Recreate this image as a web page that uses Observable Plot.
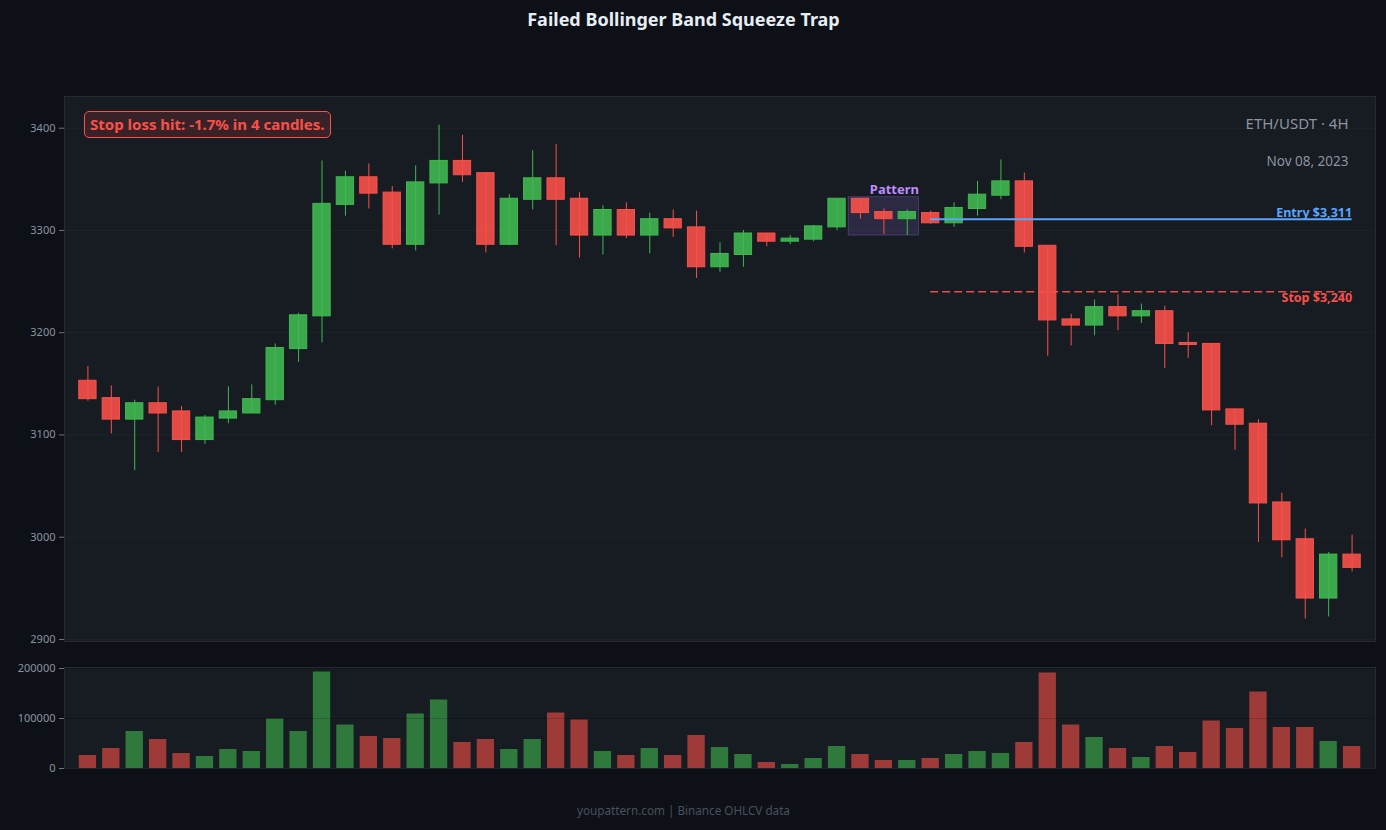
<!DOCTYPE html>
<html>
<head>
<meta charset="utf-8">
<script src="https://cdn.jsdelivr.net/npm/d3@7"></script>
<script src="https://cdn.jsdelivr.net/npm/@observablehq/plot@0.6"></script>
<style>
  html, body { margin: 0; padding: 0; background: #0d1017; width: 1386px; height: 830px; overflow: hidden; font-family: "Noto Sans", "Open Sans", sans-serif; }
  #title { position: absolute; left: 0; top: 7px; width: 1367px; text-align: center; color: #e6edf3; font-weight: bold; font-size: 18px; }
  #main { position: absolute; left: 0; top: 40px; }
  #vol { position: absolute; left: 0; top: 650px; }
  #note { position: absolute; left: 84px; top: 111px; height: 25px; padding: 0 5px; line-height: 25px; border: 1.5px solid #f85149; border-radius: 5px; background: rgba(248,81,73,0.15); color: #f85149; font-weight: bold; font-size: 15px; white-space: nowrap; }
  #footer { position: absolute; left: 0; top: 802px; width: 1367px; text-align: center; color: #4a515b; font-size: 11.7px; }
</style>
</head>
<body>
<div id="title">Failed Bollinger Band Squeeze Trap</div>
<div id="main"></div>
<div id="vol"></div>
<div id="note">Stop loss hit: -1.7% in 4 candles.</div>
<div id="footer">youpattern.com | Binance OHLCV data</div>
<script>
const opens  = [3153,3136,3115,3131,3123,3095,3116,3121,3134,3184,3216,3325,3352,3337,3286,3346,3368,3356,3286,3330,3351,3331,3295,3320,3295,3311,3303,3264,3276,3297,3289,3291,3303,3331,3318,3311,3317,3307,3321,3334,3348,3285,3213,3207,3225,3216,3221,3190,3189,3125,3111,3034,2998,2940,2983];
const highs  = [3167,3148,3134,3147,3128,3119,3147,3149,3189,3219,3368,3358,3365,3343,3363,3403,3393,3356,3335,3378,3384,3337,3324,3327,3317,3320,3319,3288,3300,3297,3295,3305,3331,3331,3321,3320,3319,3327,3348,3369,3356,3285,3218,3232,3237,3228,3226,3200,3189,3125,3115,3043,3008,2985,3002];
const lows   = [3133,3101,3065,3083,3083,3091,3111,3121,3129,3171,3190,3314,3321,3282,3280,3315,3347,3278,3285,3320,3285,3273,3276,3292,3277,3293,3253,3259,3264,3284,3286,3289,3300,3311,3296,3295,3306,3303,3314,3330,3278,3177,3187,3197,3202,3209,3165,3175,3109,3085,2995,2980,2920,2922,2966];
const closes = [3135,3115,3131,3121,3095,3117,3123,3135,3185,3217,3326,3352,3336,3286,3347,3368,3354,3286,3331,3351,3330,3295,3320,3295,3311,3302,3264,3277,3297,3289,3292,3304,3331,3317,3311,3318,3307,3322,3335,3348,3284,3212,3207,3225,3216,3221,3189,3188,3124,3110,3033,2997,2940,2983,2970];
const volumes = [26000,40000,74000,58000,30000,24000,38000,34000,99000,74000,193000,87000,64000,60000,109000,137000,52000,58000,38000,58000,111000,97000,34000,26000,40000,26000,66000,42000,28000,12000,8000,20000,44000,28000,16000,16000,20000,28000,34000,30000,52000,191000,87000,62000,40000,22000,44000,32000,95000,80000,153000,82000,82000,54000,44000];

const priceTicks = [2900,3000,3100,3200,3300,3400];
const volumeTicks = [0,100000,200000];
const entryPrice = 3311;
const stopPrice = 3240;
const entryLabel = "Entry $3,311";
const stopLabel = "Stop $3,240";
const patternStart = 33, patternEnd = 35;   // candle indices of the pattern
const entryIndex = 36;
const pairLabel = "ETH/USDT · 4H";
const dateLabel = "Nov 08, 2023";

const GREEN = "#3fb950", RED = "#f85149";
const candles = opens.map((o, i) => ({
  i, open: o, high: highs[i], low: lows[i], close: closes[i], volume: volumes[i],
  color: closes[i] >= o ? GREEN : RED
}));
const pat = candles.slice(patternStart, patternEnd + 1);
const patBox = [{
  x1: patternStart - 0.5, x2: patternEnd + 0.5,
  y1: d3.min(pat, d => d.low), y2: d3.max(pat, d => d.high) + 1.5
}];
const HW = 0.37;
const font = "'Noto Sans', 'Open Sans', sans-serif";

const main = Plot.plot({
  width: 1386, height: 620,
  marginLeft: 64, marginRight: 11, marginTop: 56, marginBottom: 19,
  style: { background: "transparent", color: "#8b949e", fontFamily: font, fontSize: "11px" },
  x: { domain: [-1, 55], axis: null },
  y: { domain: [2898, 3431], axis: null },
  color: { type: "identity" },
  marks: [
    Plot.frame({ fill: "#171b22", stroke: "#262b33" }),
    Plot.gridY(priceTicks, { stroke: "#ffffff", strokeOpacity: 0.035 }),
    Plot.axisY({ ticks: priceTicks, tickFormat: d => String(d), tickSize: 5, tickPadding: 4, label: null, stroke: "#6e7681", fill: "#8b949e", fontSize: 11 }),
    Plot.rect(patBox, { x1: "x1", x2: "x2", y1: "y1", y2: "y2", fill: "#8c6fd6", fillOpacity: 0.18, stroke: "#8c6fd6", strokeOpacity: 0.35 }),
    Plot.ruleX(candles, { x: "i", y1: "low", y2: "high", stroke: "color", strokeWidth: 1 }),
    Plot.rect(candles, { x1: d => d.i - HW, x2: d => d.i + HW, y1: "open", y2: "close", fill: "color", fillOpacity: 0.9, stroke: "color", strokeWidth: 1 }),
    Plot.text(["Pattern"], { x: patternEnd + 0.5, y: patBox[0].y2, textAnchor: "end", lineAnchor: "bottom", dy: -3, fill: "#bc8cff", fontWeight: "bold", fontSize: 13 }),
    Plot.ruleY([entryPrice], { x1: entryIndex, x2: 54, stroke: "#58a6ff", strokeWidth: 2 }),
    Plot.ruleY([stopPrice], { x1: entryIndex, x2: 54, stroke: RED, strokeWidth: 1.5, strokeDasharray: "8,4", strokeOpacity: 0.95 }),
    Plot.text([entryLabel], { x: 54, y: entryPrice, textAnchor: "end", lineAnchor: "bottom", dy: -2, fill: "#58a6ff", fontWeight: "bold", fontSize: 12.5 }),
    Plot.text([stopLabel], { x: 54, y: stopPrice, textAnchor: "end", lineAnchor: "top", dy: 1, fill: RED, fontWeight: "bold", fontSize: 12.5 }),
    Plot.text([pairLabel], { frameAnchor: "top-right", dx: -27, dy: 28, lineAnchor: "middle", fill: "#8b949e", fontSize: 15 }),
    Plot.text([dateLabel], { frameAnchor: "top-right", dx: -27, dy: 65, lineAnchor: "middle", fill: "#8b949e", fontSize: 13.5 })
  ]
});
document.getElementById("main").append(main);

const vol = Plot.plot({
  width: 1386, height: 130,
  marginLeft: 64, marginRight: 11, marginTop: 17, marginBottom: 12,
  style: { background: "transparent", color: "#8b949e", fontFamily: font, fontSize: "11px" },
  x: { domain: [-1, 55], axis: null },
  y: { domain: [0, 202000], axis: null },
  color: { type: "identity" },
  marks: [
    Plot.frame({ fill: "#171b22", stroke: "#262b33" }),
    Plot.axisY({ ticks: volumeTicks, tickFormat: d => String(d), tickSize: 5, tickPadding: 4, label: null, stroke: "#6e7681", fill: "#8b949e", fontSize: 11 }),
    Plot.rect(candles, { x1: d => d.i - HW, x2: d => d.i + HW, y1: 0, y2: "volume", fill: "color", fillOpacity: 0.6 }),
    Plot.gridY(volumeTicks, { stroke: "#000000", strokeOpacity: 0.18 })
  ]
});
document.getElementById("vol").append(vol);
</script>
</body>
</html>
